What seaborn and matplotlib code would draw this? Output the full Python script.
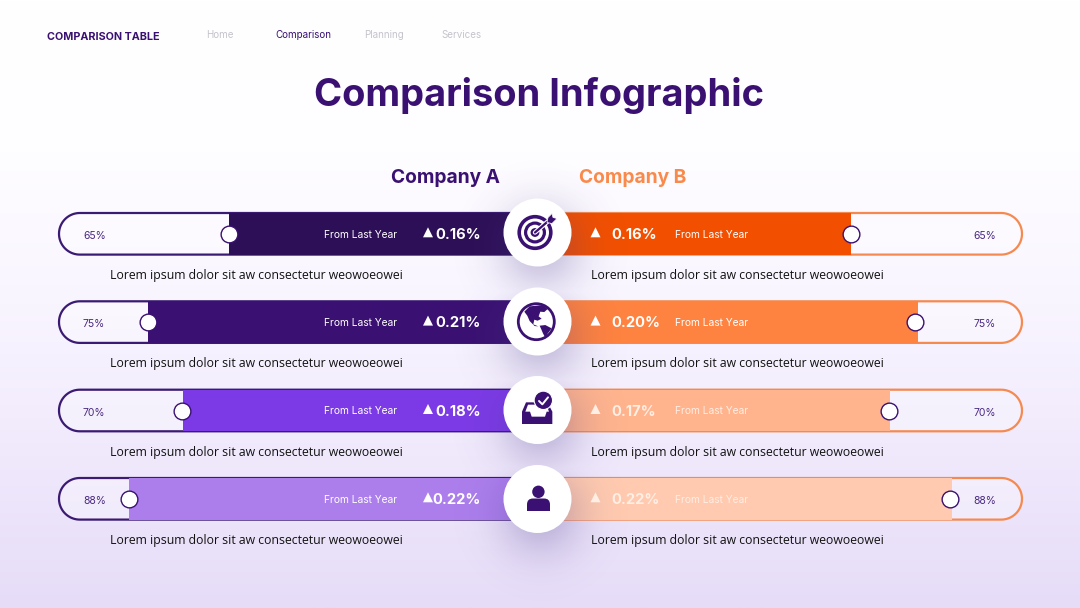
import numpy as np
import pandas as pd
import matplotlib
matplotlib.use('Agg')
import matplotlib.pyplot as plt
from matplotlib.patches import Circle, FancyBboxPatch, Polygon, Rectangle
from matplotlib.colors import LinearSegmentedColormap
import seaborn as sns

# the data
rows = ['r1', 'r2', 'r3', 'r4']
fill_a = [64.6, 81.4, 74.1, 85.3]   # bar length, % of half track
fill_b = [64.4, 78.3, 72.5, 85.3]
knob_a = [64.6, 81.3, 74.3, 85.3]   # knobs do not sit exactly on the bar ends
knob_b = [64.4, 77.7, 72.2, 84.9]
pct_a = ['65%', '75%', '70%', '88%']
pct_b = ['65%', '75%', '70%', '88%']
chg_a = ['0.16%', '0.21%', '0.18%', '0.22%']
chg_b = ['0.16%', '0.20%', '0.17%', '0.22%']
colors_a = ['#2d0f57', '#3a1172', '#7c3ae6', '#ab7eec']
colors_b = ['#f25000', '#ff8340', '#ffb48e', '#ffcaaf']
nav_labels = ['Home', 'Comparison', 'Planning', 'Services']
body = 'Lorem ipsum dolor sit aw consectetur weowoeowei'
sub = 'From Last Year'

PURPLE = '#3a1172'
ORANGE = '#f98a4b'
HEAD = 'Inter'
BODY = 'Open Sans'

sns.set_theme(style='white')
plt.rcParams['font.family'] = [HEAD, 'DejaVu Sans']

fig = plt.figure(figsize=(10.8, 6.08), dpi=100)

def pixel_axes(z):
    a = fig.add_axes([0, 0, 1, 1], zorder=z)
    a.set_xlim(0, 1080)
    a.set_ylim(608, 0)
    a.axis('off')
    a.patch.set_alpha(0)
    return a

def pill(x0, x1, y, r):
    # true half circles, the bbox patch rounding comes out too square
    t = np.linspace(-np.pi / 2, np.pi / 2, 40)
    right = np.c_[x1 - r + r * np.cos(t), y + r * np.sin(t)]
    left = np.c_[x0 + r - r * np.cos(t[::-1]), y + r * np.sin(t[::-1])]
    return np.r_[right, left]

row_y = [233.8, 322.1, 410.5, 498.8]
circle_y = [232.5, 321.5, 410, 499]
cx = 537.5

# background and empty tracks
ax_bg = pixel_axes(0)
cmap = LinearSegmentedColormap.from_list('bg', ['#ffffff', '#fefdff', '#f9f5ff', '#f0e9fc', '#e6dcf8'])
ax_bg.imshow(np.linspace(0, 1, 256).reshape(-1, 1), extent=(0, 1080, 608, 0), aspect='auto', cmap=cmap)
ax_bg.set_xlim(0, 1080)
ax_bg.set_ylim(608, 0)
for y in row_y:
    for x0, x1, col in [(59, 560, '#3a1a72'), (520, 1022, '#f58a50')]:
        ax_bg.add_patch(Polygon(pill(x0, x1, y, 20.8), closed=True, fc=(1, 1, 1, 0.3), ec=col, lw=1.6))

# the bars
ax = fig.add_axes([58.3 / 1080, 1 - 542.95 / 608, 964.4 / 1080, 353.2 / 608], zorder=1)
df_a = pd.DataFrame({'row': rows, 'fill': -np.array(fill_a)})
df_b = pd.DataFrame({'row': rows, 'fill': np.array(fill_b)})
sns.barplot(data=df_a, x='fill', y='row', hue='row', palette=colors_a, dodge=False, legend=False,
            width=0.475, saturation=1, linewidth=0, ax=ax)
sns.barplot(data=df_b, x='fill', y='row', hue='row', palette=colors_b, dodge=False, legend=False,
            width=0.475, saturation=1, linewidth=0, ax=ax)
ax.scatter(-np.array(knob_a), range(4), s=145, c='white', edgecolors=PURPLE, linewidths=1.0, zorder=5)
ax.scatter(np.array(knob_b), range(4), s=145, c='white', edgecolors=PURPLE, linewidths=1.0, zorder=5)
ax.set_xlim(-100, 100)
ax.set_ylim(3.5, -0.5)
ax.axis('off')
ax.patch.set_alpha(0)

# everything on top: shadow, discs, icons, text
top = pixel_axes(2)
yy, xx = np.mgrid[0:608, 0:1080]
glow = np.zeros(xx.shape)
for y in circle_y:
    glow = np.maximum(glow, np.exp(-(((xx - cx - 3) / 42.0) ** 2 + ((yy - y - 14) / 42.0) ** 2)))
shadow = np.zeros(xx.shape + (4,))
shadow[..., :3] = matplotlib.colors.to_rgb('#4a3a8a')
shadow[..., 3] = 0.30 * glow
top.imshow(shadow, extent=(0, 1080, 608, 0), aspect='auto', zorder=1)
top.set_xlim(0, 1080)
top.set_ylim(608, 0)

for y in circle_y:
    top.add_patch(Circle((cx, y), 34, fc='white', ec='none', zorder=2))

# target icon
tx, ty = 535, 232.5
top.add_patch(Circle((tx, ty), 15.8, fc='none', ec=PURPLE, lw=2.6, zorder=3))
top.add_patch(Circle((tx, ty), 9.4, fc='none', ec=PURPLE, lw=2.3, zorder=3))
top.add_patch(Circle((tx, ty), 4.4, fc=PURPLE, ec='none', zorder=3))
top.plot([tx, tx + 15], [ty, ty - 13], color='white', lw=3.2, zorder=3.5)
top.plot([tx, tx + 15], [ty, ty - 13], color=PURPLE, lw=1.6, zorder=4)
top.add_patch(Polygon([(tx + 12, ty - 10), (tx + 13, ty - 15), (tx + 17, ty - 19), (tx + 18, ty - 15),
                       (tx + 22, ty - 14), (tx + 17, ty - 9)], fc=PURPLE, ec='white', lw=0.5, zorder=4))

# globe icon
gx, gy = 536.3, 321.7
top.add_patch(Circle((gx, gy), 18, fc='white', ec=PURPLE, lw=2, zorder=3))
north = [(-36, -30), (-20, -46), (20, -50), (34, -38), (24, -29), (12, -30), (7, -16), (16, -9), (4, -3),
         (-6, -6), (-9, 8), (6, 14), (-5, 13), (-20, -2), (-27, -18)]
south = [(10, 12), (27, 10), (46, 20), (34, 36), (27, 48), (20, 35), (15, 23)]
for shape in (north, south):
    top.add_patch(Polygon([(gx + px / 3, gy + py / 3) for px, py in shape], fc=PURPLE, ec='none', zorder=4))

# inbox icon
tray = [(126, 162), (126, 125), (138, 97), (165, 97), (165, 104), (144, 104), (136, 125), (150, 125), (155, 140),
        (195, 140), (200, 125), (207, 125), (200, 106), (206, 104), (217, 125), (217, 162)]
top.add_patch(Polygon([(480 + px / 3, 370 + py / 3) for px, py in tray], fc=PURPLE, ec='none', zorder=3))
top.add_patch(Circle((480 + 190 / 3, 370 + 91 / 3), 9.2, fc=PURPLE, ec='white', lw=0.8, zorder=4))
top.plot([480 + 177 / 3, 480 + 187 / 3, 480 + 204 / 3], [370 + 93 / 3, 370 + 103 / 3, 370 + 82 / 3],
         color='white', lw=1.4, zorder=5)

# person icon
top.add_patch(Circle((538.4, 491.8), 6.2, fc=PURPLE, ec='none', zorder=3))
top.add_patch(FancyBboxPatch((527, 498.5), 23, 12, boxstyle='round,pad=0,rounding_size=6', fc=PURPLE, ec='none', zorder=3))
top.add_patch(Rectangle((527, 505), 23, 5.5, fc=PURPLE, ec='none', zorder=3))

# header
top.text(47, 36.8, 'COMPARISON TABLE', fontsize=7.75, fontweight='bold', color=PURPLE, va='center', zorder=6)
for label, x, col in zip(nav_labels, [206.5, 275, 364, 441], ['#c6c3cc', PURPLE, '#c6c3cc', '#c6c3cc']):
    top.text(x, 35, label, fontsize=7.05, color=col, va='center', zorder=6)
top.text(539, 96, 'Comparison Infographic', fontsize=27.4, fontweight='bold', color=PURPLE,
         ha='center', va='center', zorder=6)
top.text(445, 178, 'Company A', fontsize=13.8, fontweight='bold', color=PURPLE, ha='center', va='center', zorder=6)
top.text(632.5, 178, 'Company B', fontsize=13.8, fontweight='bold', color=ORANGE, ha='center', va='center', zorder=6)

# row texts
light = ['white', 'white', '#ffeee4', '#ffeee4']
for i, y in enumerate(row_y):
    top.text(83, y + 2.2, pct_a[i], fontsize=7.5, color='#4a2a82', va='center', zorder=6)
    top.text(996, y + 2.2, pct_b[i], fontsize=7.5, color='#4a2a82', ha='right', va='center', zorder=6)
    top.text(324, y + 1, sub, fontsize=7.35, color='white', va='center', zorder=6)
    top.text(675, y + 1, sub, fontsize=7.35, color=light[i], va='center', zorder=6)
    top.text(480.5, y + 1.2, chg_a[i], fontsize=10.6, fontweight='bold', color='white', ha='right', va='center', zorder=6)
    top.text(611, y + 1.2, chg_b[i], fontsize=10.6, fontweight='bold', color=light[i], va='center', zorder=6)
    top.scatter([428, 595.5], [y - 1.5, y - 1.5], marker='^', s=52, c=['white', light[i]], linewidths=0, zorder=6)
    top.text(110, y + 41.8, body, fontsize=8.85, family=BODY, color='#111111', va='center', zorder=6)
    top.text(591, y + 41.8, body, fontsize=8.85, family=BODY, color='#111111', va='center', zorder=6)

fig.savefig('out.png', dpi=100)
